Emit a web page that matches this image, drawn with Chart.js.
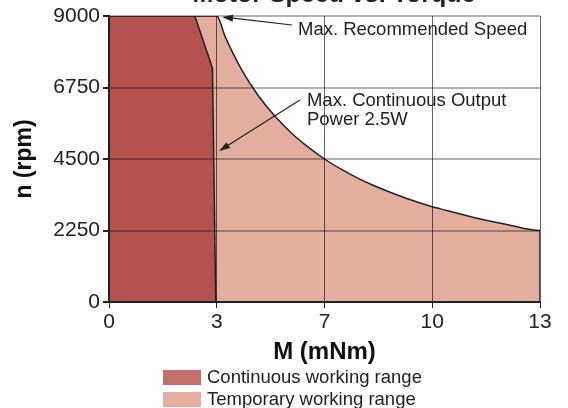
<!DOCTYPE html>
<html>
<head>
<meta charset="utf-8">
<script src="https://cdn.jsdelivr.net/npm/chart.js@4.4.0/dist/chart.umd.min.js"></script>
<style>
  html, body { margin: 0; padding: 0; background: #fff; }
</style>
</head>
<body>
<canvas id="chart" width="568" height="408"></canvas>
<script>
// ==============================
// DATA
// ==============================
const contM = [0, 0, 2.59, 3.12, 3.22];
const contN = [0, 9000, 9000, 7360, 0];

const tempM = [0, 0, 3.25, 3.5, 4, 4.5, 5, 5.5, 6, 6.5, 7, 7.5, 8, 9, 9.75, 10, 11, 12, 13, 13];
const tempN = [0, 9000, 9000, 8360, 7310, 6500, 5850, 5320, 4880, 4500, 4180, 3900, 3660, 3250, 3000, 2930, 2660, 2440, 2250, 0];

const xTicks      = [0, 3.25, 6.5, 9.75, 13];
const xTickLabels = ["0", "3", "7", "10", "13"];
const yTicks      = [0, 2250, 4500, 6750, 9000];

const seriesNames = ["Continuous working range", "Temporary working range"];

const FONT = "'Liberation Sans', Arial, sans-serif";
const INK  = "#222";

const COLORS = {
  contFill:   "#b35250",
  contLegend: "#c4706a",
  tempFill:   "#e3aea0",
  tempLegend: "#e4afa1"
};

const toPoints = (xs, ys) => xs.map((x, i) => ({ x, y: ys[i] }));

// ==============================
// ANNOTATIONS / TITLE / LEGEND
// ==============================
function arrow(ctx, x1, y1, x2, y2) {
  const ang = Math.atan2(y2 - y1, x2 - x1);
  const len = 11, half = 3.5;
  ctx.beginPath();
  ctx.moveTo(x1, y1);
  ctx.lineTo(x2 - Math.cos(ang) * len * 0.8, y2 - Math.sin(ang) * len * 0.8);
  ctx.stroke();
  ctx.beginPath();
  ctx.moveTo(x2, y2);
  ctx.lineTo(x2 - Math.cos(ang) * len - Math.sin(ang) * half, y2 - Math.sin(ang) * len + Math.cos(ang) * half);
  ctx.lineTo(x2 - Math.cos(ang) * len + Math.sin(ang) * half, y2 - Math.sin(ang) * len - Math.cos(ang) * half);
  ctx.closePath();
  ctx.fill();
}

const extras = {
  id: "extras",
  afterDraw(chart) {
    const { ctx, scales: { x, y } } = chart;
    ctx.save();

    // title (mostly cut off at the top edge)
    ctx.fillStyle = INK;
    ctx.font = "bold 25px " + FONT;
    ctx.textAlign = "center";
    ctx.textBaseline = "alphabetic";
    ctx.fillText("Motor Speed vs. Torque", 334, 2);

    // annotations
    ctx.font = "18.5px " + FONT;
    ctx.textAlign = "left";
    ctx.fillText("Max. Recommended Speed", x.getPixelForValue(5.70), y.getPixelForValue(8400));
    ctx.fillText("Max. Continuous Output", x.getPixelForValue(5.97), y.getPixelForValue(6170));
    ctx.fillText("Power 2.5W", x.getPixelForValue(5.97), y.getPixelForValue(5570));

    ctx.strokeStyle = INK;
    ctx.lineWidth = 1.2;
    arrow(ctx, x.getPixelForValue(5.52), y.getPixelForValue(8717), x.getPixelForValue(3.41), y.getPixelForValue(8970));
    arrow(ctx, x.getPixelForValue(5.76), y.getPixelForValue(6357), x.getPixelForValue(3.32), y.getPixelForValue(4752));

    // legend
    const boxes = [COLORS.contLegend, COLORS.tempLegend];
    ctx.textBaseline = "middle";
    seriesNames.forEach((name, i) => {
      const top = 370 + i * 22;
      ctx.fillStyle = boxes[i];
      ctx.fillRect(163, top, 38, 15);
      ctx.fillStyle = INK;
      ctx.fillText(name, 207, top + 8);
    });

    ctx.restore();
  }
};

// ==============================
// CHART
// ==============================
new Chart(document.getElementById("chart"), {
  type: "line",
  data: {
    datasets: [
      {
        label: seriesNames[0],
        data: toPoints(contM, contN),
        backgroundColor: COLORS.contFill,
        borderColor: INK,
        borderWidth: 1.5,
        fill: "origin",
        pointRadius: 0,
        tension: 0
      },
      {
        label: seriesNames[1],
        data: toPoints(tempM, tempN),
        backgroundColor: COLORS.tempFill,
        borderColor: INK,
        borderWidth: 1.5,
        fill: "origin",
        pointRadius: 0,
        cubicInterpolationMode: "monotone"
      }
    ]
  },
  options: {
    responsive: false,
    animation: false,
    devicePixelRatio: 1,
    layout: { padding: { top: 16, right: 28, left: 0, bottom: 39 } },
    plugins: {
      legend:  { display: false },
      tooltip: { enabled: false }
    },
    scales: {
      x: {
        type: "linear",
        min: 0,
        max: 13,
        afterBuildTicks: s => { s.ticks = xTicks.map(v => ({ value: v })); },
        afterFit: s => { s.height = 67; },
        ticks: {
          color: INK,
          font: { family: FONT, size: 21 },
          padding: 2,
          maxRotation: 0,
          callback: (v, i) => xTickLabels[i]
        },
        grid: { z: 1, color: "rgba(0,0,0,0.6)", lineWidth: 1, tickColor: INK, tickLength: 6 },
        border: { z: 2, display: true, color: INK, width: 2 },
        title: {
          display: true,
          text: "M (mNm)",
          color: "#111",
          font: { family: FONT, size: 24, weight: "bold", lineHeight: 1 },
          padding: { top: 0, bottom: 5 }
        }
      },
      y: {
        type: "linear",
        min: 0,
        max: 9000,
        afterBuildTicks: s => { s.ticks = yTicks.map(v => ({ value: v })); },
        afterFit: s => { s.width = 109; },
        ticks: {
          color: INK,
          font: { family: FONT, size: 21 },
          padding: 3,
          callback: v => String(v)
        },
        grid: { z: 1, color: "rgba(0,0,0,0.3)", lineWidth: 2, tickColor: INK, tickLength: 6 },
        border: { z: 2, display: true, color: INK, width: 2 },
        title: {
          display: true,
          text: "n (rpm)",
          color: "#111",
          font: { family: FONT, size: 23, weight: "bold", lineHeight: 1 },
          padding: { top: 13, bottom: 0 }
        }
      }
    }
  },
  plugins: [extras]
});
</script>
</body>
</html>
